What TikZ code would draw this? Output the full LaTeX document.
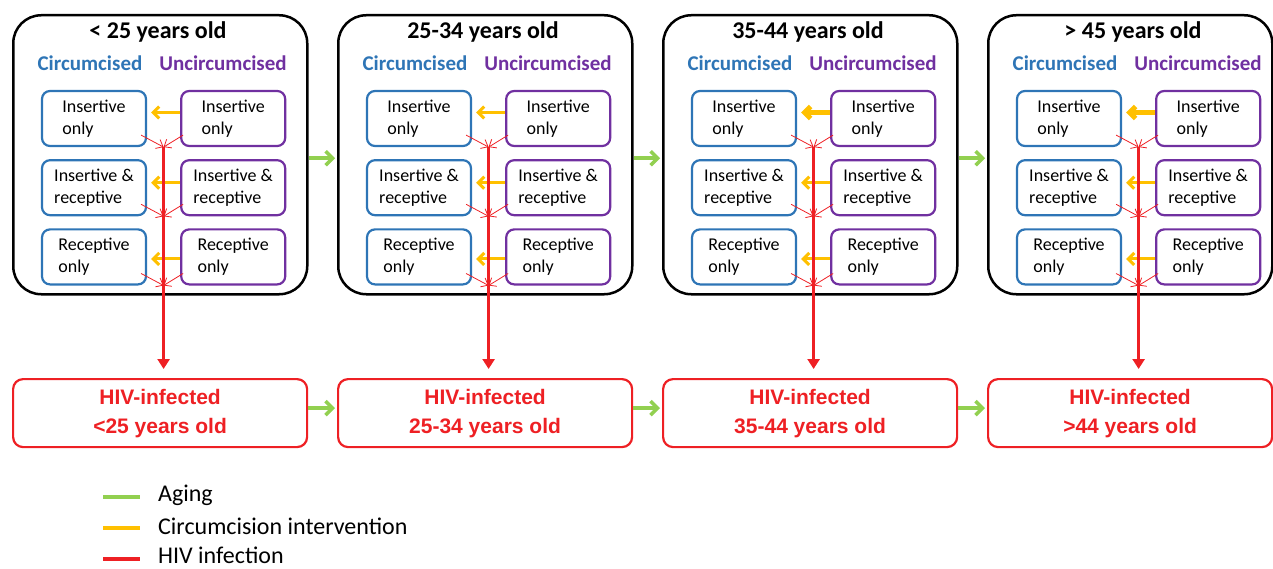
\documentclass[tikz,border=0pt]{standalone}
\usepackage{fontspec}
\setmainfont{Carlito}
\newfontfamily\arialfont{Liberation Sans}
\usepackage{xcolor}
\usepackage{tikz}
\usetikzlibrary{arrows.meta, positioning, calc}

\definecolor{circblue}{RGB}{46,117,182}
\definecolor{uncpurple}{RGB}{112,48,160}
\definecolor{hivred}{RGB}{238,32,36}
\definecolor{circyellow}{RGB}{255,192,0}
\definecolor{agegreen}{RGB}{146,208,80}

\begin{document}
\begin{tikzpicture}[x=1pt, y=-1pt]
\tikzstyle{panel} = [rectangle, draw=black, line width=2.5pt, rounded corners=28pt, minimum height=279pt, anchor=north west, inner sep=0pt]
\tikzstyle{paneltitle} = [font=\fontsize{24}{28}\selectfont\bfseries, anchor=base]
\tikzstyle{collabel} = [font=\fontsize{21}{24}\selectfont\bfseries, anchor=base]
\tikzstyle{popbox} = [rectangle, rounded corners=8pt, line width=2.2pt, minimum width=104pt, minimum height=55pt, align=left, font=\fontsize{18}{22}\selectfont, inner sep=2pt]
\tikzstyle{circ} = [popbox, draw=circblue]
\tikzstyle{uncirc} = [popbox, draw=uncpurple]
\tikzstyle{hivbox} = [rectangle, draw=hivred, line width=2.2pt, rounded corners=10pt, minimum height=68pt, anchor=north west, text=hivred, align=center, font=\arialfont\fontsize{21}{29}\selectfont\bfseries]
\tikzstyle{aging} = [draw=agegreen, line width=3.5pt, -{Straight Barb[length=7pt,width=14pt]}]
\tikzstyle{circumcise} = [draw=circyellow, -{Straight Barb[length=6pt,width=12pt]}]
\tikzstyle{infect} = [draw=hivred, line width=0.8pt, -{Straight Barb[length=6pt,width=10pt]}]
\tikzstyle{infectmain} = [draw=hivred, line width=2.5pt, -{Triangle[length=10pt,width=12pt]}, shorten >=9pt]
\tikzstyle{legendtext} = [font=\fontsize{24}{28}\selectfont, anchor=base west, inner sep=0pt]
\tikzstyle{legendline} = [line width=4pt]

\useasboundingbox (0,0) rectangle (1273,569);

% age groups
\foreach \i/\x/\w/\age/\hiv/\lw in {1/12/294/{< 25 years old}/{<25 years old}/3pt,
    2/337/294/{25-34 years old}/{25-34 years old}/3pt,
    3/662/294/{35-44 years old}/{35-44 years old}/5pt,
    4/987/284/{> 45 years old}/{>44 years old}/5pt} {
  \node (box-\i) [panel, minimum width=\w pt] at (\x,14) {};
  \node (age-\i) [paneltitle] at (\x+146,39) {\age};
  \node (cl-\i) [collabel, text=circblue] at (\x+78,71) {Circumcised};
  \node (ul-\i) [collabel, text=uncpurple] at (\x+211,71) {Uncircumcised};

  \node (ci1-\i) [circ] at (\x+82,118.5) {Insertive\\only};
  \node (ci2-\i) [circ, below=12pt of ci1-\i] {Insertive \&\\receptive};
  \node (ci3-\i) [circ, below=12pt of ci2-\i] {Receptive\\only};
  \node (un1-\i) [uncirc, right=33pt of ci1-\i] {Insertive\\only};
  \node (un2-\i) [uncirc, right=33pt of ci2-\i] {Insertive \&\\receptive};
  \node (un3-\i) [uncirc, right=33pt of ci3-\i] {Receptive\\only};

  \node (hiv-\i) [hivbox, minimum width=\w pt] at (\x,378) {HIV-infected\\\hiv};

  % circumcision intervention
  \draw [circumcise, line width=\lw] ([yshift=6pt]un1-\i.west) -- ([yshift=6pt,xshift=4pt]ci1-\i.east);
  \draw [circumcise, line width=3pt] ([yshift=5pt]un2-\i.west) -- ([yshift=5pt,xshift=4pt]ci2-\i.east);
  \draw [circumcise, line width=3pt] ([yshift=-2pt]un3-\i.west) -- ([yshift=-2pt,xshift=4pt]ci3-\i.east);

  % HIV infection
  \foreach \r in {1,2,3} {
    \coordinate (j\r-\i) at ($(ci\r-\i.south east)!0.5!(un\r-\i.south west)$);
    \draw [infect] ([xshift=-6pt,yshift=12pt]ci\r-\i.south east) -- (j\r-\i);
    \draw [infect] ([xshift=3pt,yshift=12pt]un\r-\i.south west) -- (j\r-\i);
  }
  \draw [infectmain] (j1-\i) -- (j1-\i |- hiv-\i.north);
}

% aging
\foreach \i/\j in {1/2, 2/3, 3/4} {
  \draw [aging] ([yshift=-3.5pt]box-\i.east) -- ([yshift=-3.5pt,xshift=-2pt]box-\j.west);
  \draw [aging] ([yshift=5pt]hiv-\i.east) -- ([yshift=5pt,xshift=-2pt]hiv-\j.west);
}

% legend
\node (lg-age) [legendtext] at (158,501) {Aging};
\node (lg-circ) [legendtext] at (158,534) {Circumcision intervention};
\node (lg-hiv) [legendtext] at (158,563) {HIV infection};
\draw [legendline, agegreen] ([xshift=-55pt,yshift=4pt]lg-age.base west) -- ([xshift=-18pt,yshift=4pt]lg-age.base west);
\draw [legendline, circyellow] ([xshift=-55pt,yshift=6pt]lg-circ.base west) -- ([xshift=-18pt,yshift=6pt]lg-circ.base west);
\draw [legendline, hivred] ([xshift=-55pt,yshift=4pt]lg-hiv.base west) -- ([xshift=-18pt,yshift=4pt]lg-hiv.base west);

\end{tikzpicture}
\end{document}
